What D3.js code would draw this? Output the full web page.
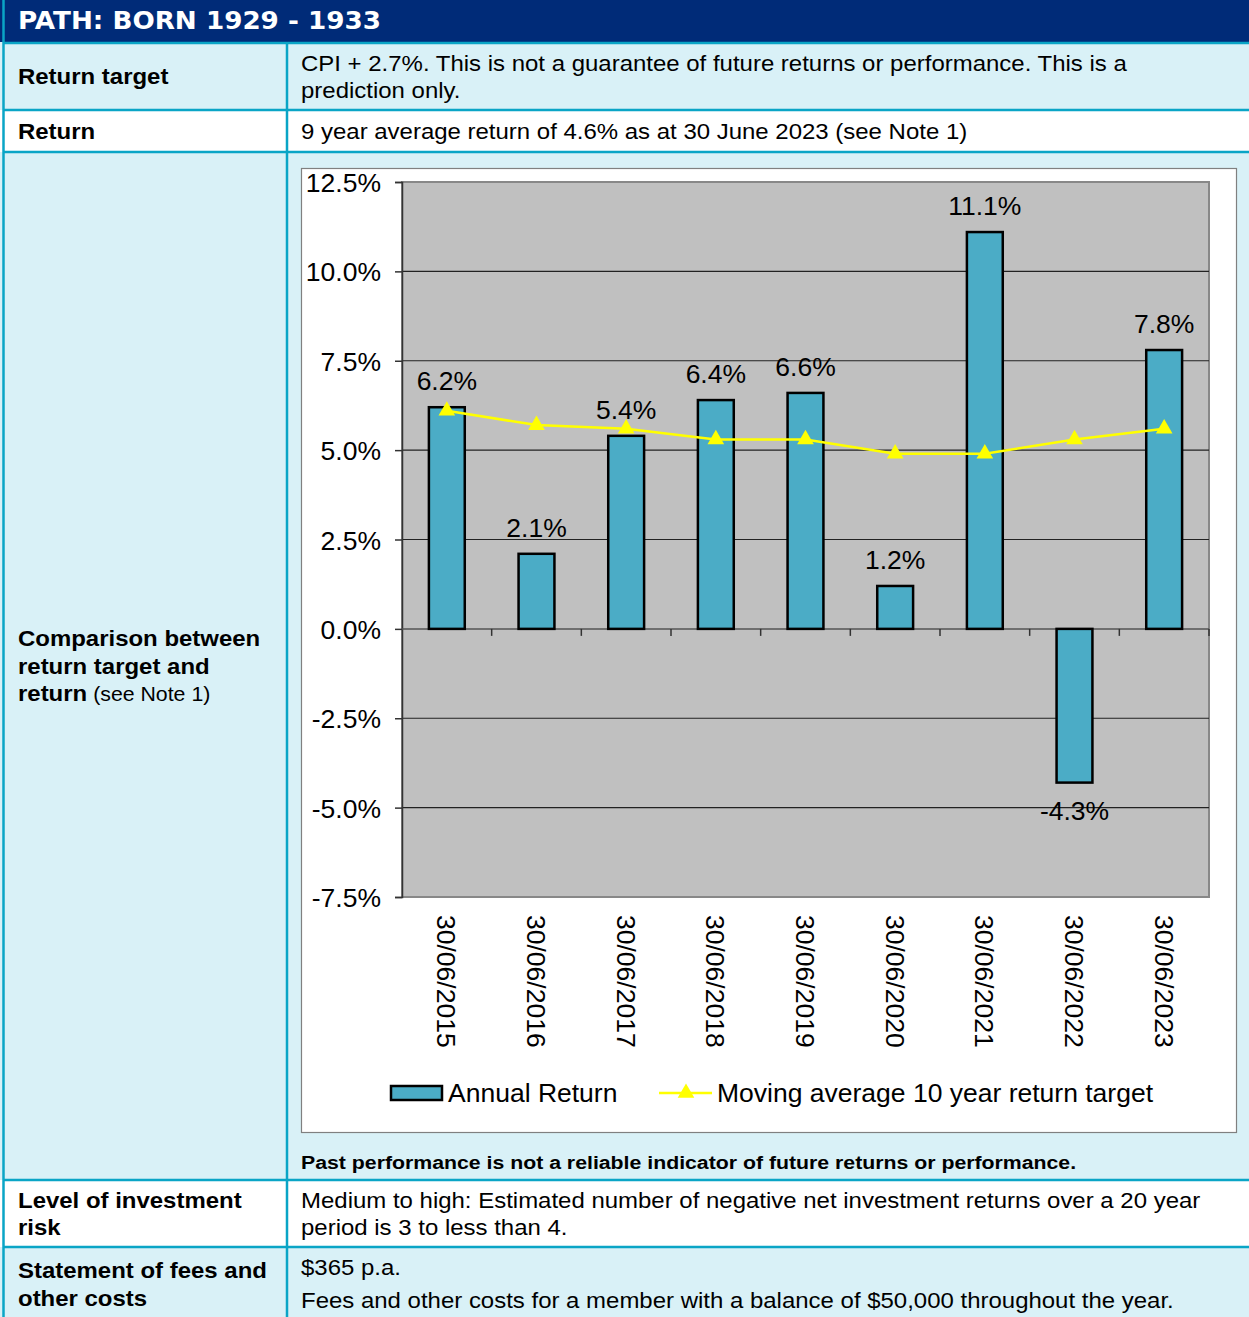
<!DOCTYPE html>
<html><head><meta charset="utf-8">
<script src="https://cdn.jsdelivr.net/npm/d3@7"></script>
<style>body{margin:0;background:#fff} svg{display:block}</style>
</head><body><svg id="c" width="1249" height="1317"></svg>
<script>
// ---- data ----
const categories = ["30/06/2015","30/06/2016","30/06/2017","30/06/2018","30/06/2019","30/06/2020","30/06/2021","30/06/2022","30/06/2023"];
const annualReturn = [6.2, 2.1, 5.4, 6.4, 6.6, 1.2, 11.1, -4.3, 7.8];
const movingTarget = [6.1, 5.7, 5.6, 5.3, 5.3, 4.9, 4.9, 5.3, 5.6];
const yTicks = [12.5, 10, 7.5, 5, 2.5, 0, -2.5, -5, -7.5];
const seriesNames = ["Annual Return", "Moving average 10 year return target"];
const title = "PATH: BORN 1929 - 1933";
const rowLabels = [["Return target"], ["Return"], ["Comparison between", "return target and", "return"], ["Level of investment", "risk"], ["Statement of fees and", "other costs"]];
const rowTexts = [
  ["CPI + 2.7%. This is not a guarantee of future returns or performance. This is a", "prediction only."],
  ["9 year average return of 4.6% as at 30 June 2023 (see Note 1)"],
  [],
  ["Medium to high: Estimated number of negative net investment returns over a 20 year", "period is 3 to less than 4."],
  ["$365 p.a.", "Fees and other costs for a member with a balance of $50,000 throughout the year."]
];
const noteText = "(see Note 1)";
const disclaimer = "Past performance is not a reliable indicator of future returns or performance.";

// ---- drawing ----
const svg = d3.select("#c");
const W = 1249, H = 1317;
const FONT = "'Liberation Sans', Arial, sans-serif";
const teal = "#0AA5C6", lightBlue = "#D9F1F7", navy = "#002B78";
const pct = d => d3.format(".1f")(d).replace("\u2212", "-") + "%";

const rows = [
  {y0: 43, y1: 110, bg: lightBlue},
  {y0: 110, y1: 152, bg: "#ffffff"},
  {y0: 152, y1: 1180, bg: lightBlue},
  {y0: 1180, y1: 1247, bg: "#ffffff"},
  {y0: 1247, y1: 1317, bg: lightBlue}
];
const colX = 287, leftX = 18, rightX = 301;

// horizontally stretched text helper
function stext(x0, y0, sx, txt, size, weight) {
  const g = svg.append("g").attr("transform", `translate(${x0},${y0}) scale(${sx},1)`);
  return g.append("text").attr("x",0).attr("y",0).attr("font-family",FONT)
    .attr("font-weight",weight || "normal").attr("font-size",size).attr("fill","#000").text(txt);
}

// backgrounds
svg.append("rect").attr("x",0).attr("y",0).attr("width",W).attr("height",H).attr("fill",lightBlue);
rows.forEach(r => svg.append("rect").attr("x",0).attr("y",r.y0).attr("width",W).attr("height",r.y1-r.y0).attr("fill",r.bg));
svg.append("rect").attr("x",0).attr("y",0).attr("width",W).attr("height",42).attr("fill",navy);
svg.append("g").attr("transform",`translate(${leftX},29) scale(1.07,1)`)
  .append("text").attr("fill","#fff")
  .attr("font-family","'DejaVu Sans', Verdana, sans-serif").attr("font-weight","bold").attr("font-size",24.5)
  .text(title);

// grid lines of table
const lineG = svg.append("g").attr("stroke",teal).attr("stroke-width",2.5);
rows.forEach(r => lineG.append("line").attr("x1",3).attr("x2",W).attr("y1",r.y0).attr("y2",r.y0));
lineG.append("line").attr("x1",3.5).attr("x2",3.5).attr("y1",0).attr("y2",H);
lineG.append("line").attr("x1",colX).attr("x2",colX).attr("y1",43).attr("y2",H);

// left labels
const labelBaselines = [[84],[139],[646,674,701],[1208,1235],[1278,1306]];
rowLabels.forEach((lines,i) => {
  lines.forEach((t,j) => {
    const tx = stext(leftX, labelBaselines[i][j], 1.065, t, 22.5, "bold");
    if (i === 2 && j === 2) {
      tx.append("tspan").attr("font-weight","normal").attr("font-size",20).text(" " + noteText);
    }
  });
});
// right texts
const textBaselines = [[71,98],[139],[],[1208,1235],[1275,1308]];
rowTexts.forEach((lines,i) => {
  lines.forEach((t,j) => stext(rightX, textBaselines[i][j], 1.09, t, 22));
});
stext(rightX, 1169, 1.12, disclaimer, 19, "bold");

// chart box
svg.append("rect").attr("x",301.5).attr("y",168.5).attr("width",935).attr("height",964)
  .attr("fill","#fff").attr("stroke","#808080").attr("stroke-width",1.2);

const x = d3.scaleBand().domain(categories).range([402, 1209]).padding(0);
const y = d3.scaleLinear().domain([-7.5, 12.5]).range([897, 182]);
const bw = x.bandwidth() * 0.4;
const CF = 26.5;

// plot area
svg.append("rect").attr("x",402).attr("y",182).attr("width",807).attr("height",715)
  .attr("fill","#C0C0C0").attr("stroke","#888").attr("stroke-width",2);
// gridlines
svg.append("g").selectAll("line").data(yTicks.filter(v => v !== 0 && v !== 12.5 && v !== -7.5)).join("line")
  .attr("x1",402).attr("x2",1209).attr("y1",d=>y(d)).attr("y2",d=>y(d))
  .attr("stroke","#222").attr("stroke-width",1.2);

// y axis
const yAxis = d3.axisLeft(y).tickValues(yTicks).tickSize(7).tickFormat(pct);
const gy = svg.append("g").attr("transform","translate(402,0)").call(yAxis);
gy.select(".domain").attr("stroke","#333").attr("stroke-width",1.5);
gy.selectAll(".tick line").attr("stroke","#333").attr("stroke-width",1.5);
gy.selectAll(".tick text").attr("font-family",FONT).attr("font-size",CF).attr("fill","#000").attr("x",-21).attr("dy","0.36em");

// zero axis with ticks at category boundaries
svg.append("line").attr("x1",402).attr("x2",1209).attr("y1",y(0)).attr("y2",y(0)).attr("stroke","#555").attr("stroke-width",1.5);
const bounds = categories.map(c => x(c)).concat([x(categories[categories.length-1]) + x.bandwidth()]);
svg.append("g").selectAll("line").data(bounds.slice(1)).join("line")
  .attr("x1",d=>d).attr("x2",d=>d).attr("y1",y(0)).attr("y2",y(0)+7).attr("stroke","#333").attr("stroke-width",1.5);

// x labels
svg.append("g").selectAll("text").data(categories).join("text")
  .attr("transform", d => `translate(${x(d)+x.bandwidth()/2},915) rotate(90)`)
  .attr("dy","0.36em").attr("text-anchor","start")
  .attr("font-family",FONT).attr("font-size",CF).attr("fill","#000").text(d => d);

// bars
svg.append("g").selectAll("rect").data(annualReturn).join("rect")
  .attr("x",(d,i) => x(categories[i]) + x.bandwidth()/2 - bw/2)
  .attr("y",d => y(Math.max(0,d))).attr("width",bw)
  .attr("height",d => Math.abs(y(d)-y(0)))
  .attr("fill","#4BACC6").attr("stroke","#000").attr("stroke-width",2.5);

// moving average line
const line = d3.line().x((d,i) => x(categories[i]) + x.bandwidth()/2).y(d => y(d));
svg.append("path").datum(movingTarget).attr("d",line).attr("fill","none").attr("stroke","#FFFF00").attr("stroke-width",2.5);
const tri = d3.symbol().type(d3.symbolTriangle).size(120);
svg.append("g").selectAll("path").data(movingTarget).join("path")
  .attr("transform",(d,i) => `translate(${x(categories[i]) + x.bandwidth()/2},${y(d)})`)
  .attr("d",tri).attr("fill","#FFFF00");

// bar labels
svg.append("g").selectAll("text").data(annualReturn).join("text")
  .attr("x",(d,i) => x(categories[i]) + x.bandwidth()/2)
  .attr("y",d => d >= 0 ? y(d) - 17 : y(d) + 37)
  .attr("text-anchor","middle").attr("font-family",FONT).attr("font-size",CF).attr("fill","#000")
  .text(pct);

// legend
const lg = svg.append("g");
lg.append("rect").attr("x",391).attr("y",1086).attr("width",51).attr("height",14)
  .attr("fill","#4BACC6").attr("stroke","#000").attr("stroke-width",2.5);
lg.append("text").attr("x",448).attr("y",1102).attr("font-family",FONT).attr("font-size",CF).text(seriesNames[0]);
lg.append("line").attr("x1",659).attr("x2",712).attr("y1",1093).attr("y2",1093).attr("stroke","#FFFF00").attr("stroke-width",2.5);
lg.append("path").attr("transform","translate(686,1093)").attr("d",tri).attr("fill","#FFFF00");
lg.append("text").attr("x",717).attr("y",1102).attr("font-family",FONT).attr("font-size",CF).text(seriesNames[1]);
</script></body></html>
